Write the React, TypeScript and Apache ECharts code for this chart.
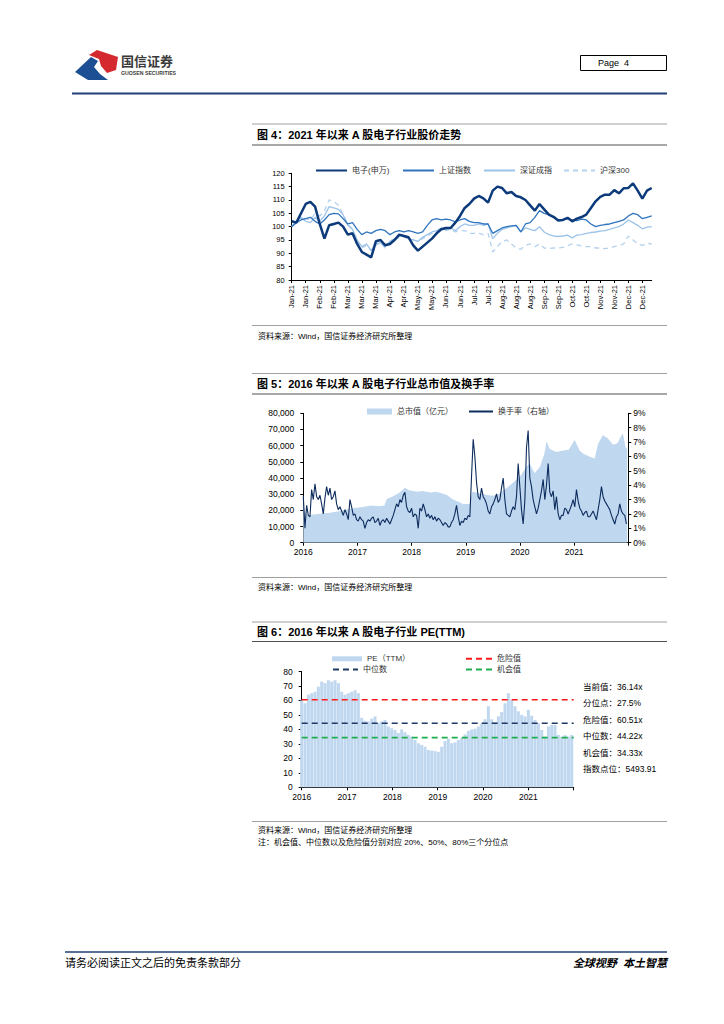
import React, { useEffect, useRef } from "react";
import * as echarts from "echarts";

const FONT = "'Liberation Sans', Arial, 'Noto Sans CJK SC', sans-serif";
const CJK = "'Liberation Sans', 'Noto Sans CJK SC', sans-serif";

// ---------------- 图4 ----------------
const C4_TICK_LABELS = ["Jan-21","Jan-21","Feb-21","Feb-21","Mar-21","Mar-21","Mar-21","Apr-21","Apr-21","May-21","May-21","Jun-21","Jun-21","Jul-21","Jul-21","Aug-21","Aug-21","Aug-21","Sep-21","Sep-21","Oct-21","Oct-21","Nov-21","Nov-21","Dec-21","Dec-21"];
const C4_ELEC = [102,101.5,105,108.5,109.3,107.5,101,95.5,100.5,101,
101.5,100,97,97.5,93.5,90.5,89.5,88.5,94.5,95,
93,93.5,95,97,96.5,96,93,91,92.5,94,
95.5,97.5,99,99.5,99.5,101.5,104,107,108.5,110.5,
111.5,110.6,109,113.5,115,114.5,112.5,113,111.5,111,
110,108,106,108.5,106.5,104.5,103.7,102.3,102.5,103.3,
102,103,103.6,104.5,107,109.5,111.2,112,112,113.7,
112.5,114.4,114.5,116.2,113.5,110.5,113.5,114.5];
const C4_SH = [100,101.5,102.5,103,103.5,102,101,102.5,104.5,105,
104.8,103,101,101.5,99,97,98,97.5,98.5,99,
98.5,97,98,98.5,98,98.5,98,97.5,98,100.5,
102.5,103,102.5,102.8,102.5,101.8,102.5,103,102,101.5,
101.5,101,101,97.5,98.5,99.5,100,100.3,100.5,98,
101,101.5,103.5,106,105,104.5,103.5,102.5,102.5,103,
102.5,102.3,102.8,102.5,101,100,100.5,100.8,101,101.5,
102,102.5,104,105,104.5,103,103.5,104];
const C4_SZ = [100,102,103.5,102,101.5,103.5,102,104,107.5,107,
106.5,104.5,100.5,99,95,92.5,93.5,91,93.5,94,
92.5,94.5,95.5,96.5,96.5,95.5,95,94.5,96,97,
98,98.5,99.5,99,99.5,98.5,100,101,100.5,100.5,
101,100.5,101,95.5,97.5,99,99.5,100,100.5,98,
99.5,99,98.5,100,98,97,96.5,96.3,96.5,96.8,
95.8,96.8,97,97.5,97.8,98,98.3,98.5,99,99.5,
100,101,102.5,101.5,100.5,99.2,99.8,100];
const C4_HS300 = [100,102.5,104,103,102.5,105,104,106,110,109.5,
108,104.5,101,99,94.5,92,93,91,93,94,
92,94,95,96,96,95.5,95,94.5,95.5,96.5,
97.5,98,99,98.5,99,98,98.5,98.5,97.5,97.5,
97.5,97,97.5,90.5,92.5,94.5,95,93.5,92,91.5,
93,93.5,92.5,93.5,92,91.8,92,92,92.2,92.8,
93.5,93.2,92.8,92.5,92.5,92,92,91.8,92,92.5,
93,93.5,96.5,95,93.5,93,93.8,93.5];

// ---------------- 图5 ----------------
const C5_CAP_YEARS = [2016.00,2016.02,2016.06,2016.2,2016.35,2016.5,2016.65,2016.8,2016.95,2017.1,2017.25,2017.4,2017.5,2017.54,2017.65,2017.78,2017.88,2017.95,2018.1,2018.2,2018.35,2018.45,2018.55,2018.65,2018.75,2018.85,2018.95,2019.07,2019.12,2019.25,2019.4,2019.5,2019.6,2019.7,2019.8,2019.87,2020.0,2020.12,2020.18,2020.27,2020.37,2020.45,2020.49,2020.55,2020.67,2020.8,2020.9,2021.01,2021.1,2021.17,2021.3,2021.38,2021.44,2021.53,2021.62,2021.72,2021.8,2021.86,2021.9,2021.95,2021.98];
const C5_CAP_VALUES = [30000,20000,17000,17500,18000,18500,19500,20500,21500,22000,23000,22500,23000,27000,28500,31000,34000,32500,31500,32000,31000,31500,30500,29500,27000,25500,24000,24000,31500,30500,29500,29000,30000,32500,35000,37000,41000,47000,49000,43000,47000,55000,62500,58000,56000,57000,57500,63500,57000,55000,53000,52000,61000,66500,64500,60500,61500,65500,67500,59000,58000];
const C5_TURN_START = 2016;
const C5_TURN_STEP = 0.03075; // ~11 days per sample
const C5_TURNOVER = [
3.2,1.0,2.6,1.9,1.8,3.7,3.0,4.1,3.2,3.0,
3.3,2.7,2.0,3.1,3.9,3.3,3.8,3.0,3.2,3.6,
2.7,2.3,2.5,2.2,1.9,2.3,2.0,1.6,3.0,2.5,
1.9,2.0,1.6,1.5,1.8,1.6,1.5,1.0,1.4,1.6,
1.5,1.7,1.8,1.4,1.5,1.7,1.2,1.5,1.6,1.4,
1.7,1.5,1.3,1.6,1.9,2.3,2.7,2.5,3.0,2.8,
3.3,3.5,2.5,2.2,2.1,2.4,1.8,2.0,1.9,1.0,
2.4,2.2,2.7,2.3,1.8,2.0,1.7,1.9,1.6,1.8,
1.5,1.7,1.6,1.4,1.2,1.4,1.3,1.1,1.1,1.4,
1.6,2.0,2.6,1.8,1.2,1.5,1.4,1.7,1.6,1.9,
1.8,4.6,7.2,6.0,4.2,3.2,3.0,3.8,3.2,3.0,
2.7,2.2,2.0,2.5,2.7,3.0,3.4,2.8,3.0,3.8,
4.5,3.0,2.0,1.9,1.8,2.2,2.5,2.3,3.2,5.5,
3.9,2.3,1.3,2.9,6.6,7.8,4.5,3.9,3.0,2.5,
2.0,2.4,3.0,3.6,4.4,3.0,4.0,5.5,3.5,3.2,
3.6,2.3,3.2,2.0,1.6,1.9,1.9,2.4,2.3,2.0,
2.3,2.6,3.0,2.5,3.7,2.9,2.4,2.2,1.9,2.1,
2.2,1.8,1.8,2.0,2.2,1.9,1.6,2.3,3.0,3.9,
3.2,2.9,2.7,2.5,2.3,1.9,1.6,1.3,1.8,2.0,
2.7,2.2,2.0,1.9,1.3];

// ---------------- 图6 ----------------
const C6_PE_START = 2016;
const C6_PE_STEP = 0.07353; // ~27 days per sample
const C6_PE = [60,58,64,65,66,69.5,73,72,74,73,
74,72,66,64,65,66,67,65,48,46,
45.5,47.5,49,44.5,45.5,46.5,42,40.8,39.6,37.5,
40,38,36.2,35,32.7,30.4,29.3,28,25.8,25.3,
25,24.5,28,32,33.5,30.5,31,32.7,34,36.5,
39,40,40.5,42,44,47,56,47,45,49,
52,58,65,60.5,56,52.5,50,49,53.5,49.5,
46.5,44.2,39.6,35,42,43,43,36.2,35,36,
35,36.14];
const C6_DANGER = 60.51;
const C6_MEDIAN = 44.22;
const C6_CHANCE = 34.33;
const C6_STATS = ["当前值：36.14x","分位点：27.5%","危险值：60.51x","中位数：44.22x","机会值：34.33x","指数点位：5493.91"];

const BAR_BLUE = "#bfd7ef";

const hline = (x1: number, x2: number, y: number, stroke: string, lineWidth: number) => ({
  type: "line", silent: true, shape: { x1, y1: y, x2, y2: y }, style: { stroke, lineWidth },
});
const txt = (x: number, y: number, text: string, o: any = {}) => ({
  type: "text", silent: true, x, y,
  style: { text, fill: "#000", fontSize: 8, fontFamily: CJK, align: "left", verticalAlign: "middle", textAlign: "left", textVerticalAlign: "middle", ...o },
});

const axisLineBlack = { show: true, lineStyle: { color: "#000", width: 1 } };
const tick = (len = 3) => ({ show: true, length: len, inside: false, lineStyle: { color: "#000", width: 1 } });

const lineLegend = (name: string, left: number, cy: number, w: number) => ({
  data: [name], left, top: cy - 4.5, itemWidth: w, itemHeight: 8, padding: 0, itemGap: 0,
  selectedMode: false,
  itemStyle: { opacity: 0 },
  textStyle: { fontSize: 8, color: "#333", fontFamily: CJK },
});
const rectLegend = (name: string, left: number, cy: number, w: number, h: number) => ({
  data: [name], left, top: cy - 4.5, itemWidth: w, itemHeight: h, padding: 0, itemGap: 0,
  selectedMode: false, icon: "rect",
  itemStyle: { color: BAR_BLUE, borderWidth: 0 },
  textStyle: { fontSize: 8, color: "#333", fontFamily: CJK },
});

function buildOption() {
  const idx = C4_ELEC.map((_, i) => String(i));
  const capData = C5_CAP_YEARS.map((y, i) => [y, C5_CAP_VALUES[i]]);
  const turnData = C5_TURNOVER.map((v, i) => [C5_TURN_START + i * C5_TURN_STEP, v]);
  const peData = C6_PE.map((v, i) => [C6_PE_START + i * C6_PE_STEP, v]);
  const yearFmt = (v: number) => (v >= 2022 ? "" : String(v));

  const graphics: any[] = [
    // logo
    { type: "polygon", silent: true, shape: { points: [[75, 72], [91, 57], [98, 61], [94, 67], [100, 74], [108, 80], [88, 80]] }, style: { fill: "#1c4f94" } },
    { type: "polygon", silent: true, shape: { points: [[89, 55], [97, 50], [118, 57], [116, 70], [107, 73], [101, 66], [99, 59]] }, style: { fill: "#d42a2f" } },
    txt(121, 60, "国信证券", { fontSize: 13, fontWeight: "bold", fill: "#3a3a3a", fontFamily: "'Noto Sans CJK SC', sans-serif" }),
    txt(121, 72.5, "GUOSEN SECURITIES", { fontSize: 5.2, fontWeight: "bold", fill: "#3a3a3a", fontFamily: FONT }),
    { type: "rect", silent: true, shape: { x: 580.5, y: 55.5, width: 86, height: 15 }, style: { fill: "#fff", stroke: "#000", lineWidth: 1 } },
    txt(598, 63, "Page  4", { fontSize: 9, fontFamily: FONT }),
    hline(72, 667, 93.5, "#233f73", 2),

    // chart 4 block
    hline(252, 667, 124, "#a0a0a0", 1),
    txt(257, 135, "图 4：2021 年以来 A 股电子行业股价走势", { fontSize: 11, fontWeight: "bold" }),
    hline(252, 667, 145, "#505050", 1),
    hline(252, 667, 325.5, "#a0a0a0", 1),
    txt(258, 336, "资料来源：Wind，国信证券经济研究所整理", { fontSize: 8 }),

    // chart 5 block
    hline(252, 667, 373.5, "#a0a0a0", 1),
    txt(257, 384, "图 5：2016 年以来 A 股电子行业总市值及换手率", { fontSize: 11, fontWeight: "bold" }),
    hline(252, 667, 394, "#505050", 1),
    hline(252, 667, 577.5, "#a0a0a0", 1),
    txt(258, 587, "资料来源：Wind，国信证券经济研究所整理", { fontSize: 8 }),

    // chart 6 block
    hline(252, 667, 622, "#a0a0a0", 1),
    txt(257, 632, "图 6：2016 年以来 A 股电子行业 PE(TTM)", { fontSize: 11, fontWeight: "bold" }),
    hline(252, 667, 641.5, "#505050", 1),
    hline(252, 667, 821.5, "#a0a0a0", 1),
    txt(258, 830, "资料来源：Wind，国信证券经济研究所整理", { fontSize: 8 }),
    txt(258, 842, "注：机会值、中位数以及危险值分别对应 20%、50%、80%三个分位点", { fontSize: 8 }),

    // footer
    hline(65, 667, 952, "#233f73", 1.5),
    txt(65, 962.5, "请务必阅读正文之后的免责条款部分", { fontSize: 11 }),
    txt(667, 962.5, "全球视野  本土智慧", { fontSize: 11, fontWeight: "bold", fontStyle: "italic", align: "right", textAlign: "right" }),
  ];
  const statY = [686.5, 703, 719.5, 736, 752.5, 769];
  C6_STATS.forEach((s, i) => graphics.push(txt(583, statY[i], s, { fontSize: 8.5 })));

  return {
    animation: false,
    backgroundColor: "#fff",
    textStyle: { fontFamily: FONT },
    graphic: { elements: graphics },
    grid: [
      { left: 291.7, top: 173.3, width: 360, height: 106.7 },
      { left: 303.3, top: 413.3, width: 325, height: 129.4 },
      { left: 301.7, top: 671.5, width: 272, height: 115.8 },
    ],
    legend: [
      lineLegend("电子(申万)", 315, 171, 31),
      lineLegend("上证指数", 402, 171, 31),
      lineLegend("深证成指", 483, 171, 31),
      lineLegend("沪深300", 563, 171, 31),
      rectLegend("总市值（亿元）", 367, 412, 25, 6),
      lineLegend("换手率（右轴）", 468, 412, 24),
      rectLegend("PE（TTM）", 332, 659.3, 30, 5),
      lineLegend("危险值", 465, 659.3, 26),
      lineLegend("中位数", 332, 670, 25),
      lineLegend("机会值", 465, 670, 26),
    ],
    xAxis: [
      {
        gridIndex: 0, type: "category", boundaryGap: false, data: idx,
        axisLine: axisLineBlack, axisTick: { ...tick(3), interval: 2 }, splitLine: { show: false },
        axisLabel: { interval: 2, rotate: 90, margin: 5, fontSize: 7.5, color: "#000", fontFamily: FONT,
          formatter: (_: string, i: number) => C4_TICK_LABELS[Math.round(i / 3)] || "" },
      },
      {
        gridIndex: 1, type: "value", min: 2016, max: 2022, interval: 1,
        axisLine: axisLineBlack, axisTick: tick(3), splitLine: { show: false },
        axisLabel: { margin: 5, fontSize: 8.5, color: "#000", fontFamily: FONT, formatter: yearFmt },
      },
      {
        gridIndex: 2, type: "value", min: 2016, max: 2022, interval: 1,
        axisLine: axisLineBlack, axisTick: tick(3), splitLine: { show: false },
        axisLabel: { margin: 5, fontSize: 8.5, color: "#000", fontFamily: FONT, formatter: yearFmt },
      },
    ],
    yAxis: [
      {
        gridIndex: 0, type: "value", min: 80, max: 120, interval: 5,
        axisLine: axisLineBlack, axisTick: tick(3), splitLine: { show: false },
        axisLabel: { margin: 7, fontSize: 7.5, color: "#000", fontFamily: FONT },
      },
      {
        gridIndex: 1, type: "value", min: 0, max: 80000, interval: 10000,
        axisLine: axisLineBlack, axisTick: tick(3), splitLine: { show: false },
        axisLabel: { margin: 9, fontSize: 8.5, color: "#000", fontFamily: FONT,
          formatter: (v: number) => v.toLocaleString("en-US") },
      },
      {
        gridIndex: 1, type: "value", position: "right", min: 0, max: 9, interval: 1,
        axisLine: axisLineBlack, axisTick: tick(3), splitLine: { show: false },
        axisLabel: { margin: 5, fontSize: 8.5, color: "#000", fontFamily: FONT, formatter: "{value}%" },
      },
      {
        gridIndex: 2, type: "value", min: 0, max: 80, interval: 10,
        axisLine: axisLineBlack, axisTick: tick(3), splitLine: { show: false },
        axisLabel: { margin: 9, fontSize: 8.5, color: "#000", fontFamily: FONT },
      },
    ],
    series: [
      { name: "沪深300", type: "line", xAxisIndex: 0, yAxisIndex: 0, data: C4_HS300, symbol: "none",
        lineStyle: { color: "#b5d1ee", width: 1.3, type: [5, 4] }, itemStyle: { color: "#b5d1ee" } },
      { name: "深证成指", type: "line", xAxisIndex: 0, yAxisIndex: 0, data: C4_SZ, symbol: "none",
        lineStyle: { color: "#9cc3e8", width: 1.3 }, itemStyle: { color: "#9cc3e8" } },
      { name: "上证指数", type: "line", xAxisIndex: 0, yAxisIndex: 0, data: C4_SH, symbol: "none",
        lineStyle: { color: "#2f74bd", width: 1.3 }, itemStyle: { color: "#2f74bd" } },
      { name: "电子(申万)", type: "line", xAxisIndex: 0, yAxisIndex: 0, data: C4_ELEC, symbol: "none",
        lineStyle: { color: "#0c3a7a", width: 2.5 }, itemStyle: { color: "#0c3a7a" } },

      { name: "总市值（亿元）", type: "line", xAxisIndex: 1, yAxisIndex: 1, data: capData, symbol: "none",
        lineStyle: { width: 0, color: BAR_BLUE }, itemStyle: { color: BAR_BLUE },
        areaStyle: { color: BAR_BLUE, opacity: 1 } },
      { name: "换手率（右轴）", type: "line", xAxisIndex: 1, yAxisIndex: 2, data: turnData, symbol: "none",
        lineStyle: { color: "#0d2c5e", width: 1.1 }, itemStyle: { color: "#0d2c5e" } },

      { name: "PE（TTM）", type: "bar", xAxisIndex: 2, yAxisIndex: 3, data: peData, barWidth: 3,
        itemStyle: { color: BAR_BLUE } },
      { name: "危险值", type: "line", xAxisIndex: 2, yAxisIndex: 3, data: [[2016, C6_DANGER], [2022, C6_DANGER]], symbol: "none",
        lineStyle: { color: "#ff1a1a", width: 1.6, type: [6, 4] }, itemStyle: { color: "#ff1a1a" } },
      { name: "中位数", type: "line", xAxisIndex: 2, yAxisIndex: 3, data: [[2016, C6_MEDIAN], [2022, C6_MEDIAN]], symbol: "none",
        lineStyle: { color: "#1f3864", width: 1.6, type: [6, 4] }, itemStyle: { color: "#1f3864" } },
      { name: "机会值", type: "line", xAxisIndex: 2, yAxisIndex: 3, data: [[2016, C6_CHANCE], [2022, C6_CHANCE]], symbol: "none",
        lineStyle: { color: "#1fae4f", width: 1.6, type: [6, 4] }, itemStyle: { color: "#1fae4f" } },
    ],
  };
}

export default function App() {
  const ref = useRef<HTMLDivElement>(null);
  useEffect(() => {
    const chart = echarts.init(ref.current!, null, { renderer: "svg" });
    chart.setOption(buildOption() as any);
    return () => chart.dispose();
  }, []);
  return (
    <div
      ref={ref}
      style={{ position: "absolute", left: 0, top: 0, width: 724, height: 1024, background: "#fff" }}
    />
  );
}
